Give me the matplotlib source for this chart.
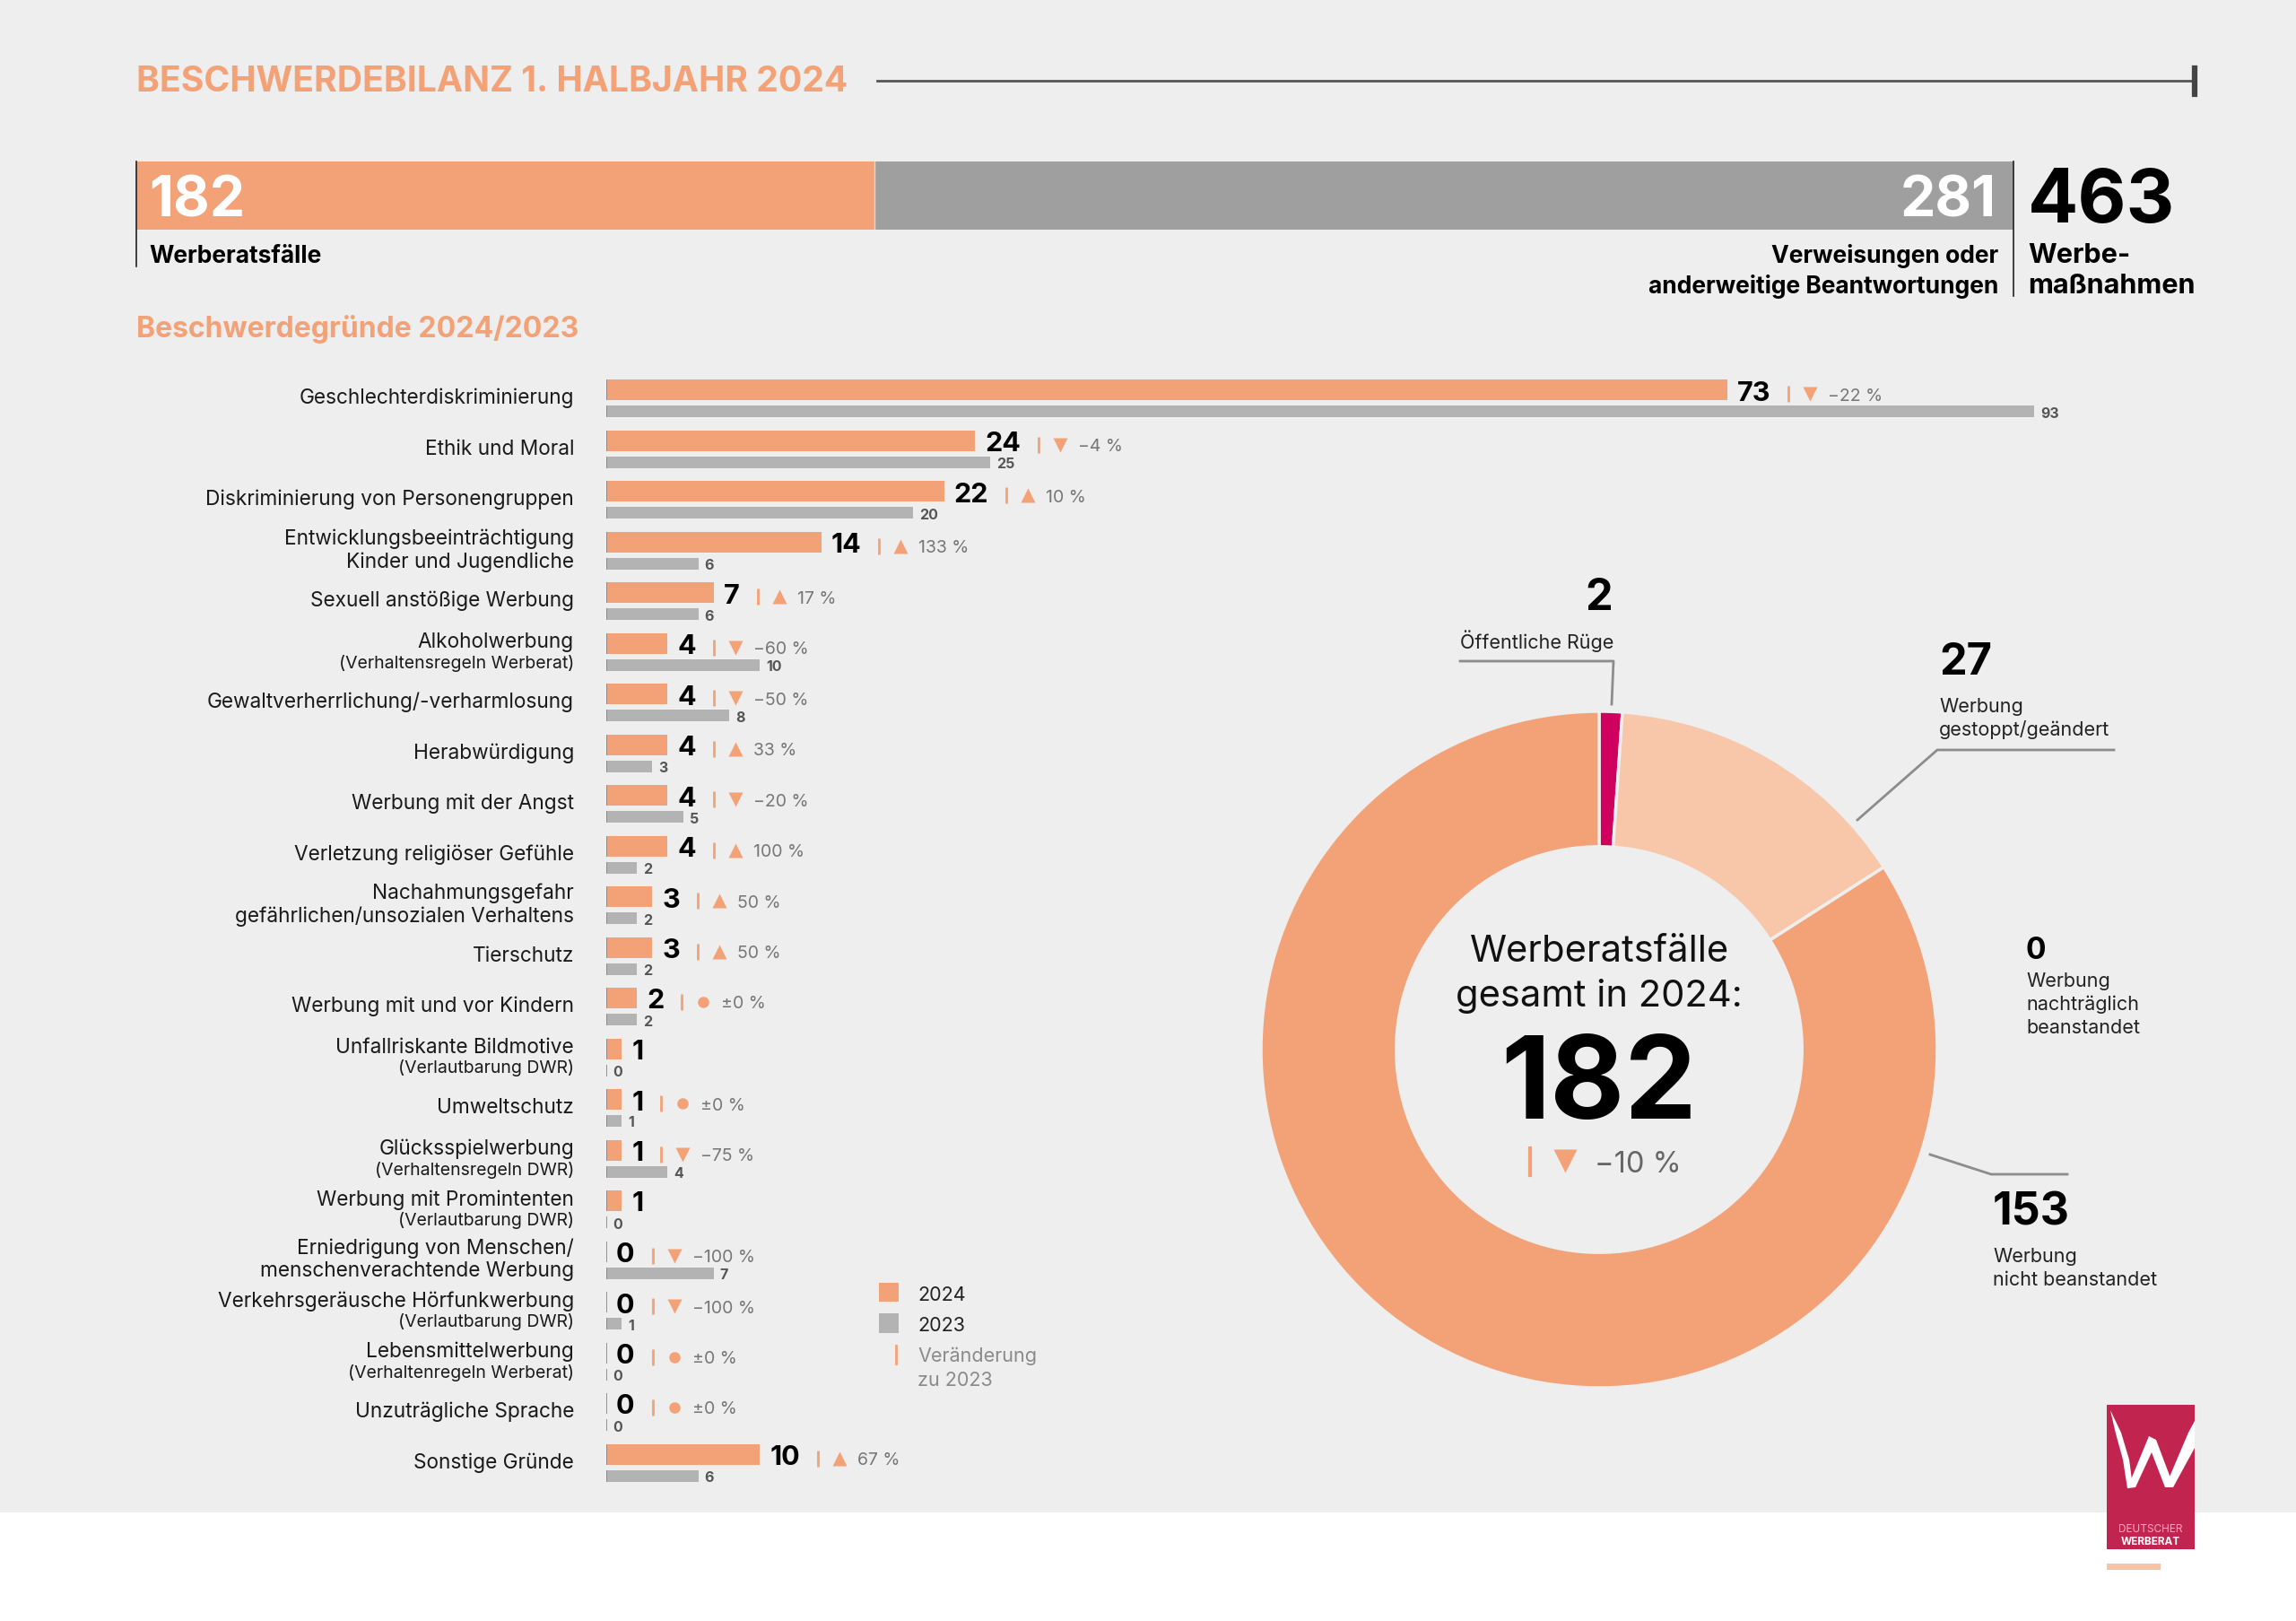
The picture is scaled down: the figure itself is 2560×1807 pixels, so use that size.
import matplotlib
matplotlib.use('Agg')
import matplotlib.pyplot as plt
from matplotlib.lines import Line2D
from matplotlib.patches import Rectangle, Polygon
import numpy as np

plt.rcParams['font.family'] = ['Inter', 'DejaVu Sans']

# Daten
top_values = [182, 281]
top_total = 463

categories = ["Geschlechterdiskriminierung", "Ethik und Moral", "Diskriminierung von Personengruppen",
              "Entwicklungsbeeinträchtigung\nKinder und Jugendliche", "Sexuell anstößige Werbung",
              "Alkoholwerbung", "Gewaltverherrlichung/-verharmlosung", "Herabwürdigung",
              "Werbung mit der Angst", "Verletzung religiöser Gefühle",
              "Nachahmungsgefahr\ngefährlichen/unsozialen Verhaltens", "Tierschutz",
              "Werbung mit und vor Kindern", "Unfallriskante Bildmotive", "Umweltschutz",
              "Glücksspielwerbung", "Werbung mit Promintenten",
              "Erniedrigung von Menschen/\nmenschenverachtende Werbung",
              "Verkehrsgeräusche Hörfunkwerbung", "Lebensmittelwerbung", "Unzuträgliche Sprache",
              "Sonstige Gründe"]
sub_labels = ["", "", "", "", "", "(Verhaltensregeln Werberat)", "", "", "", "", "", "", "",
              "(Verlautbarung DWR)", "", "(Verhaltensregeln DWR)", "(Verlautbarung DWR)", "",
              "(Verlautbarung DWR)", "(Verhaltenregeln Werberat)", "", ""]
v2024 = [73, 24, 22, 14, 7, 4, 4, 4, 4, 4, 3, 3, 2, 1, 1, 1, 1, 0, 0, 0, 0, 10]
v2023 = [93, 25, 20, 6, 6, 10, 8, 3, 5, 2, 2, 2, 2, 0, 1, 4, 0, 7, 1, 0, 0, 6]
change = [-22, -4, 10, 133, 17, -60, -50, 33, -20, 100, 50, 50, 0, None, 0, -75, None,
          -100, -100, 0, 0, 67]

donut_labels = ["Öffentliche Rüge", "Werbung gestoppt/geändert", "Werbung nachträglich beanstandet",
                "Werbung nicht beanstandet"]
donut_values = [2, 27, 0, 153]
total_change = -10

# Farben
BG = '#EDEEED'
ORANGE = '#F3A177'
GRAY23 = '#B3B3B3'
TOPGRAY = '#9E9F9E'
MAGENTA = '#D0005E'
PEACH = '#F8C6A9'
TXTGRAY = '#777777'

W, H = 2560, 1807
fig = plt.figure(figsize=(25.6, 18.07), dpi=100, facecolor='white')


def fx(x):
    return x / W


def fy(y):
    return 1 - y / H


def ftext(x, y, s, **kw):
    kw.setdefault('va', 'baseline')
    return fig.text(fx(x), fy(y), s, **kw)


def fline(xs, ys, **kw):
    fig.add_artist(Line2D([fx(x) for x in xs], [fy(y) for y in ys], transform=fig.transFigure, **kw))


def frect(x0, y0, x1, y1, color):
    fig.add_artist(Rectangle((fx(x0), fy(y1)), (x1 - x0) / W, (y1 - y0) / H, transform=fig.transFigure,
                             color=color, lw=0, zorder=0))


def fmt_pct(p):
    if p == 0:
        return "±0 %"
    if p < 0:
        return "−%d %%" % abs(p)
    return "%d %%" % p


# Hintergrund
frect(0, 0, W, 1686, BG)

# Titel
ftext(152, 102, "BESCHWERDEBILANZ 1. HALBJAHR 2024", fontsize=28.2, weight='bold', color=ORANGE)
fline([978, 2447], [90, 90], color='#555555', lw=2)
fline([2447, 2447], [76, 105], color='#444444', lw=4.5)

# Gestapelter Balken oben
ax_top = fig.add_axes([fx(152), fy(256), 2093 / W, 76 / H])
ax_top.barh(0, top_values[0], height=1, color=ORANGE, edgecolor='none')
ax_top.barh(0, top_values[1], left=top_values[0], height=1, color=TOPGRAY, edgecolor='none')
ax_top.axvline(top_values[0], color='#DDDDDD', lw=1)
ax_top.set_xlim(0, top_total)
ax_top.set_ylim(-0.5, 0.5)
ax_top.axis('off')

fline([152, 152], [180, 297], color='#222222', lw=1.2)
fline([2245, 2245], [180, 330], color='#222222', lw=1.2)
ftext(166, 242, str(top_values[0]), fontsize=45, weight='bold', color='white')
ftext(2226, 242, str(top_values[1]), fontsize=45, weight='bold', color='white', ha='right')
ftext(2261, 248, str(top_total), fontsize=60, weight='bold', color='black')
ftext(166, 293, "Werberatsfälle", fontsize=19, weight='bold', color='black')
ftext(2228, 293, "Verweisungen oder", fontsize=19, weight='bold', color='black', ha='right')
ftext(2228, 327, "anderweitige Beantwortungen", fontsize=19, weight='bold', color='black', ha='right')
ftext(2261, 293, "Werbe-", fontsize=22, weight='bold', color='black')
ftext(2261, 327, "maßnahmen", fontsize=22, weight='bold', color='black')

ftext(152, 376, "Beschwerdegründe 2024/2023", fontsize=23, weight='bold', color=ORANGE)

# Balkendiagramm Beschwerdegründe
PXU = 17.12      # Pixel pro Einheit
ROW = 56.5       # Pixel pro Zeile
n = len(categories)
ax = fig.add_axes([fx(676), fy(423 + n * ROW), 1626 / W, n * ROW / H])
ax.set_xlim(0, 1626 / PXU)
ax.set_ylim(n, 0)
ax.axis('off')
ax.patch.set_alpha(0)

rows = np.arange(n)
y24 = rows + 11.5 / ROW
y23 = rows + 35.5 / ROW
h24 = 23 / ROW
h23 = 13 / ROW
ax.barh(y24, v2024, height=h24, color=ORANGE, edgecolor='none')
ax.barh(y23, v2023, height=h23, color=GRAY23, edgecolor='none')
zeros = np.zeros(n)
ax.vlines(zeros, y24 - h24 / 2, y24 + h24 / 2, color='#8A8A8A', lw=1.3)
ax.vlines(zeros, y23 - h23 / 2, y23 + h23 / 2, color='#8A8A8A', lw=1.3)

LFS = 16.3
SFS = 14
lab_x = -36 / PXU
for i, (cat, sub) in enumerate(zip(categories, sub_labels)):
    c = i + 21 / ROW
    lines = cat.split('\n')
    if len(lines) == 2:
        ax.text(lab_x, c - 13 / ROW, lines[0], ha='right', va='center', fontsize=LFS, color='#1a1a1a')
        ax.text(lab_x, c + 13 / ROW, lines[1], ha='right', va='center', fontsize=LFS, color='#1a1a1a')
    elif sub:
        ax.text(lab_x, c - 10.5 / ROW, cat, ha='right', va='center', fontsize=LFS, color='#1a1a1a')
        ax.text(lab_x, c + 12.5 / ROW, sub, ha='right', va='center', fontsize=SFS, color='#1a1a1a')
    else:
        ax.text(lab_x, c, cat, ha='right', va='center', fontsize=LFS, color='#1a1a1a')

renderer = fig.canvas.get_renderer()
inv = ax.transData.inverted()
for i in range(n):
    t = ax.text(v2024[i] + 11 / PXU, rows[i] + h24 + 0.5 / ROW, str(v2024[i]), ha='left', va='baseline',
                fontsize=22, weight='bold', color='black')
    ax.text(v2023[i] + 7 / PXU, y23[i] + h23 / 2 + 0.5 / ROW, str(v2023[i]), ha='left', va='baseline',
            fontsize=11.5, weight='bold', color='#555555')
    if change[i] is None:
        continue
    bb = t.get_window_extent(renderer)
    xend = inv.transform((bb.x1, bb.y0))[0]
    ym = y24[i] + 4.5 / ROW
    ax.plot(xend + 20 / PXU, ym, marker='|', ms=13, mew=2, color=ORANGE, ls='none')
    p = change[i]
    mk = '^' if p > 0 else ('v' if p < 0 else 'o')
    ax.plot(xend + 44 / PXU, ym, marker=mk, ms=11 if mk != 'o' else 9, color=ORANGE, mec='none', ls='none')
    ax.text(xend + 64 / PXU, rows[i] + h24 + 0.5 / ROW, fmt_pct(p), ha='left', va='baseline',
            fontsize=14, color=TXTGRAY)

# Legende
frect(980, 1430, 1002, 1451, ORANGE)
frect(980, 1464, 1002, 1486, GRAY23)
fline([999, 999], [1500, 1520], color=ORANGE, lw=2)
ftext(1023, 1450, "2024", fontsize=15.5, color='#222222')
ftext(1023, 1484, "2023", fontsize=15.5, color='#222222')
ftext(1023, 1518, "Veränderung", fontsize=15.5, color='#8A8A8A')
ftext(1023, 1545, "zu 2023", fontsize=15.5, color='#8A8A8A')

# Donut
ax_pie = fig.add_axes([fx(1406), fy(1547), 754 / W, 754 / H])
ax_pie.pie(donut_values, colors=[MAGENTA, PEACH, '#F5B596', ORANGE], startangle=90, counterclock=False,
           radius=1, wedgeprops=dict(width=0.4, edgecolor=BG, linewidth=2.5))
ax_pie.set_xlim(-1, 1)
ax_pie.set_ylim(-1, 1)

ftext(1783, 1072, "Werberatsfälle", fontsize=30, color='#111111', ha='center')
ftext(1783, 1122, "gesamt in 2024:", fontsize=30, color='#111111', ha='center')
ftext(1783, 1247, str(sum(donut_values)), fontsize=92, weight='bold', color='black', ha='center')
fline([1706, 1706], [1280, 1310], color=ORANGE, lw=3)
ax_pie.plot((1745 - 1783) / 377, (1170 - 1294) / 377, marker='v' if total_change < 0 else '^',
            ms=19, color=ORANGE, mec='none')
ftext(1778, 1307, fmt_pct(total_change), fontsize=23.5, color='#666666')

# Beschriftungen Donut
LC = '#8C8C8C'
AFS = 15.5
ftext(1783, 680, str(donut_values[0]), fontsize=35, weight='bold', color='black', ha='center')
ftext(1628, 723, "Öffentliche Rüge", fontsize=AFS, color='#222222')
fline([1628, 1799, 1797], [737, 737, 785], color=LC, lw=2)

ftext(2162, 752, str(donut_values[1]), fontsize=35, weight='bold', color='black')
ftext(2162, 794, "Werbung", fontsize=AFS, color='#222222')
ftext(2162, 820, "gestoppt/geändert", fontsize=AFS, color='#222222')
fline([2071, 2160, 2357], [914, 836, 836], color=LC, lw=2)

ftext(2259, 1069, str(donut_values[2]), fontsize=24, weight='bold', color='black')
ftext(2259, 1100, "Werbung", fontsize=AFS, color='#222222')
ftext(2259, 1126, "nachträglich", fontsize=AFS, color='#222222')
ftext(2259, 1152, "beanstandet", fontsize=AFS, color='#222222')

ftext(2222, 1365, str(donut_values[3]), fontsize=36, weight='bold', color='black')
ftext(2222, 1407, "Werbung", fontsize=AFS, color='#222222')
ftext(2222, 1433, "nicht beanstandet", fontsize=AFS, color='#222222')
fline([2152, 2220, 2305], [1287, 1309, 1309], color=LC, lw=2)

# Logo
frect(2349, 1566, 2447, 1727, '#C1254F')
frect(2349, 1743, 2409, 1750, '#F8C3A3')
w_parts = [
    [(2353, 1572), (2365, 1597), (2374, 1627), (2378, 1657), (2372, 1659), (2367, 1627), (2359, 1598)],
    [(2372, 1659), (2396, 1601), (2404, 1605), (2421, 1650), (2414, 1658), (2399, 1619), (2381, 1658)],
    [(2414, 1658), (2440, 1597), (2447, 1584), (2447, 1614), (2423, 1658)],
]
for part in w_parts:
    fig.add_artist(Polygon([(fx(x), fy(y)) for x, y in part], closed=True, transform=fig.transFigure,
                           color='white', lw=0))
ftext(2398, 1708, "DEUTSCHER", fontsize=8.5, color='#F2AFC3', ha='center')
ftext(2398, 1722, "WERBERAT", fontsize=8.5, weight='bold', color='white', ha='center')

fig.savefig('out.png', dpi=100, facecolor='white')
